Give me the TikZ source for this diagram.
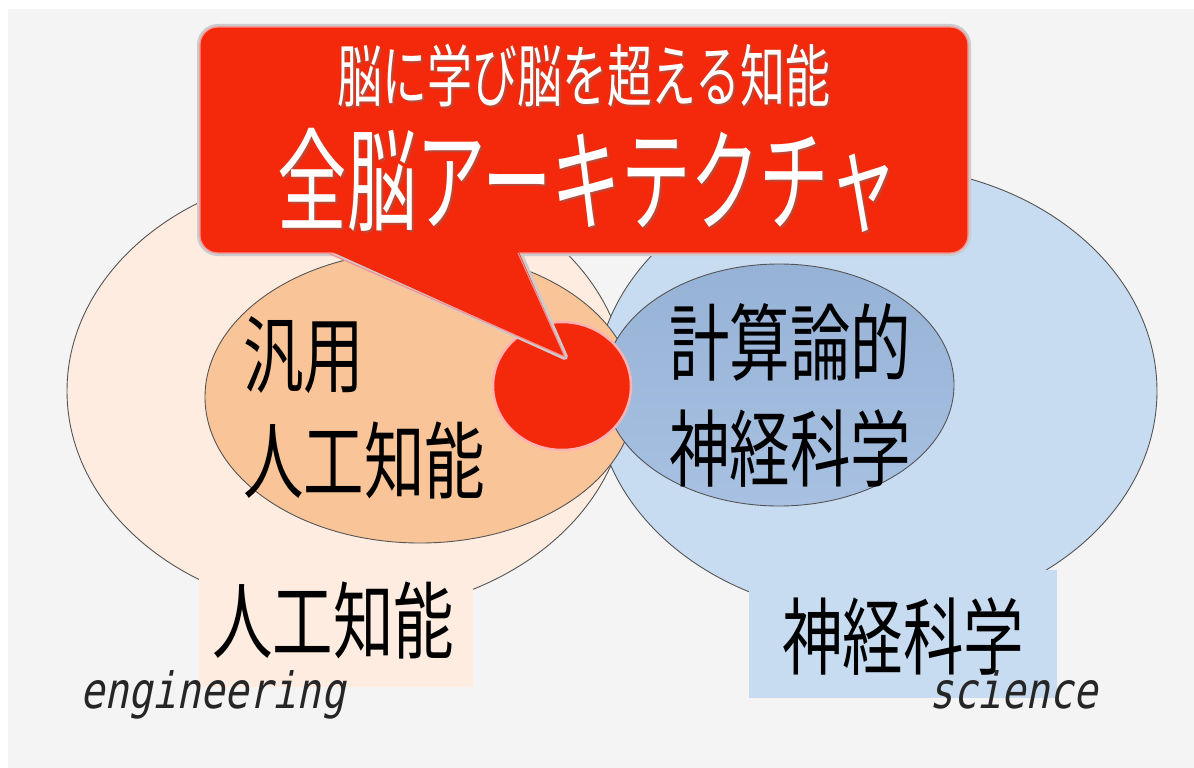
\documentclass[tikz,border=0pt]{standalone}
\usepackage{fontspec}
\usetikzlibrary{shapes.geometric,calc}
\newfontfamily\jpblack[FakeStretch=0.72]{Noto Sans CJK JP}
\newfontfamily\jptitleA[FakeStretch=0.66]{Noto Sans CJK JP}
\newfontfamily\jptitleB[FakeStretch=0.62]{Noto Sans CJK JP}
\newfontfamily\engfont[FakeStretch=0.8,FakeSlant=0.2]{DejaVu Sans Mono}
\definecolor{bggray}{RGB}{244,244,244}
\definecolor{peachlight}{RGB}{253,236,223}
\definecolor{peachdark}{RGB}{249,197,152}
\definecolor{bluelight}{RGB}{199,219,241}
\definecolor{bluedarktop}{RGB}{150,178,214}
\definecolor{bluedarkbot}{RGB}{168,193,226}
\definecolor{calloutred}{RGB}{244,40,10}
\definecolor{outline}{RGB}{85,85,85}
\tikzset{
  region/.style={draw=outline, line width=0.9pt},
  blacktext/.style={inner sep=0pt, text=black, font=\jpblack\fontsize{84}{106}\selectfont},
  engtext/.style={inner sep=0pt, text=black!85, font=\engfont\fontsize{50}{56}\selectfont},
  glow/.style={draw=black!20, line width=6pt, line join=round},
  titleA/.style={inner sep=0pt, font=\jptitleA\fontsize{68}{72}\selectfont},
  titleB/.style={inner sep=0pt, font=\jptitleB\fontsize{112}{116}\selectfont},
  tshadow/.style={text=black!55, opacity=0.45},
}
\begin{document}
\begin{tikzpicture}[x=1pt,y=-1pt]
\useasboundingbox (0,0) rectangle (1194,768);
\fill[white] (0,0) rectangle (1194,768);
\fill[bggray] (8,9) rectangle (1194,768);

% outer ellipses
\fill[peachlight] (347,391) ellipse [x radius=280, y radius=222];
\draw[region] (347,391) ellipse [x radius=280, y radius=222];
\fill[bluelight] (876,391) ellipse [x radius=281, y radius=225];
\draw[region] (876,391) ellipse [x radius=281, y radius=225];

% inner ellipses
\node[region, fill=peachdark, ellipse, minimum width=430pt, minimum height=292pt, inner sep=0pt] (agi) at (420,397) {};
\node[region, ellipse, top color=bluedarktop, bottom color=bluedarkbot, minimum width=350pt, minimum height=242pt, inner sep=0pt] (cns) at (779,385) {};

% label boxes
\fill[peachlight] (199,577) rectangle (473,687);
\fill[bluelight] (749,570) rectangle (1057,698);
\node[blacktext] (ai) at (333,620) {人工知能};
\node[blacktext] (ns) at (903,636) {神経科学};

% inner texts
\node[blacktext, anchor=west, align=left] (agitext) at (243,408) {汎用\\人工知能};
\node[blacktext, anchor=west, align=left] (cnstext) at (669,395) {計算論的\\神経科学};

% english
\node[engtext, anchor=base west] (eng) at (80,708) {engineering};
\node[engtext, anchor=base west] (sci) at (929,708) {science};

% red core
\node[ellipse, fill=calloutred, draw=red!30!white, line width=2.5pt, minimum width=138pt, minimum height=128pt, inner sep=0pt] (core) at (562,386) {};

% callout
\coordinate (tailL) at (328,250);
\coordinate (tailR) at (518,250);
\coordinate (tip) at (565,357);
\draw[glow, rounded corners=18pt] (200,27) rectangle (968,253);
\draw[glow] (tailL) -- (tip) -- (tailR);
\node[rounded corners=18pt, fill=calloutred, draw=red!45!white, line width=1.2pt, minimum width=768pt, minimum height=226pt, inner sep=0pt] (callout) at (584,140) {};
\fill[calloutred] ($(tailL)+(0,-12)$) -- (tailL) -- (tip) -- (tailR) -- ($(tailR)+(0,-12)$) -- cycle;
\draw[draw=red!45!white, line width=1.2pt, line join=round] ([yshift=-3pt]tailL) -- (tip) -- ([yshift=-3pt]tailR);

\node[titleA, tshadow] at (586,78) {脳に学び脳を超える知能};
\node[titleA, text=white] (title1) at (584,76) {脳に学び脳を超える知能};
\node[titleB, tshadow] at (590,182) {全脳アーキテクチャ};
\node[titleB, text=white] (title2) at (588,180) {全脳アーキテクチャ};
\end{tikzpicture}
\end{document}
